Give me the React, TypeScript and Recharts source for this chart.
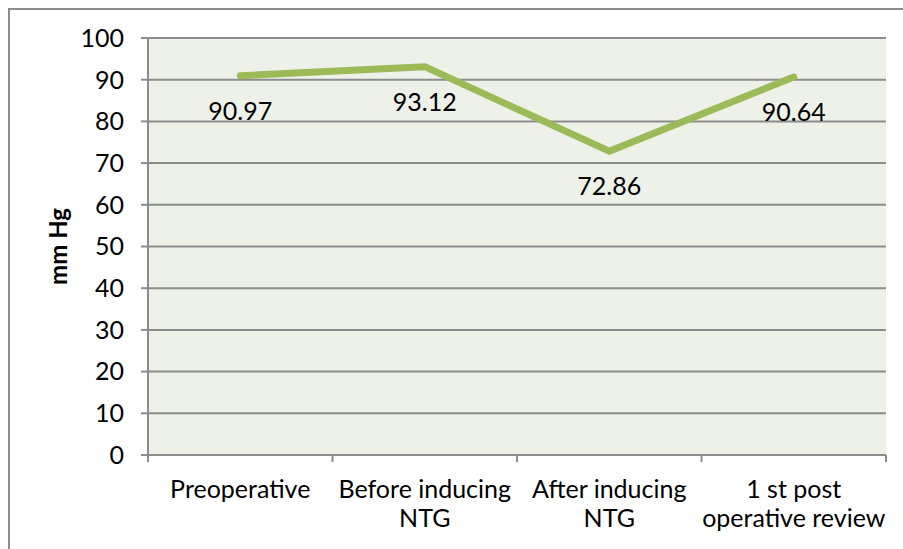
import { ComposedChart, Line, XAxis, YAxis, CartesianGrid, LabelList, Label } from 'recharts';

// mean arterial pressure at each stage
const stages = ['Preoperative', 'Before inducing\nNTG', 'After inducing\nNTG', '1 st post\noperative review'];
const pressure = [90.97, 93.12, 72.86, 90.64];
const yTicks = [0, 10, 20, 30, 40, 50, 60, 70, 80, 90, 100];

const data = stages.map((stage, i) => ({ stage, value: pressure[i] }));

const FONT = 'Lato, "Open Sans", sans-serif';
const AXIS_GREY = '#8c8c8c';
const GREEN = '#9bbb59';

// category label centred in its band, with tick marks on the band edges
function StageTick(props: any) {
  const { x, y, payload } = props;
  const half = payload.offset ?? 0;
  const lines = String(payload.value).split('\n');
  const isLast = payload.value === stages[stages.length - 1];
  return (
    <g>
      <line x1={x - half} x2={x - half} y1={y} y2={y + 7} stroke={AXIS_GREY} strokeWidth={2} />
      {isLast && <line x1={x + half} x2={x + half} y1={y} y2={y + 7} stroke={AXIS_GREY} strokeWidth={2} />}
      <text x={x} y={y + 43} textAnchor="middle" fontFamily={FONT} fontSize={25} fill="#000">
        {lines.map((l, i) => (
          <tspan key={i} x={x} dy={i === 0 ? 0 : 29}>{l}</tspan>
        ))}
      </text>
    </g>
  );
}

function ValueLabel(props: any) {
  const { x, y, value } = props;
  return (
    <text x={x} y={y + 44} textAnchor="middle" fontFamily={FONT} fontSize={25} fill="#000">
      {value.toFixed(2)}
    </text>
  );
}

function AxisTitle(props: any) {
  const { viewBox } = props;
  const cx = 67;
  const cy = viewBox.y + viewBox.height / 2;
  return (
    <text x={cx} y={cy} transform={`rotate(-90, ${cx}, ${cy})`} textAnchor="middle"
      fontFamily={FONT} fontSize={24} fontWeight="bold" fill="#000">
      mm Hg
    </text>
  );
}

export default function App() {
  return (
    <div style={{ position: 'fixed', left: 0, top: 0, width: 903, height: 549, overflow: 'hidden', background: '#fff' }}>
      <div style={{ position: 'absolute', left: 8, top: 8, width: 903, height: 549, border: '2px solid #8c8c8c', boxSizing: 'border-box' }} />
      <div style={{ position: 'absolute', left: 0, top: 0 }}>
        <ComposedChart width={903} height={549} data={data} margin={{ top: 38, right: 17, left: 0, bottom: 0 }}>
          <CartesianGrid vertical={false} fill="#eef1e8" fillOpacity={1} stroke={AXIS_GREY} strokeWidth={2} />
          <XAxis dataKey="stage" scale="band" height={94} interval={0} tickLine={false} tickSize={0} tickMargin={0}
            axisLine={{ stroke: AXIS_GREY, strokeWidth: 2 }} tick={<StageTick />} />
          <YAxis width={148} domain={[0, 100]} ticks={yTicks} interval={0} tickSize={7} tickMargin={17}
            axisLine={{ stroke: AXIS_GREY, strokeWidth: 2 }} tickLine={{ stroke: AXIS_GREY, strokeWidth: 2 }}
            tick={{ fontFamily: FONT, fontSize: 25, fill: '#000' }}>
            <Label content={<AxisTitle />} />
          </YAxis>
          <Line dataKey="value" stroke={GREEN} strokeWidth={7} strokeLinecap="round" strokeLinejoin="round"
            dot={false} activeDot={false} isAnimationActive={false}>
            <LabelList dataKey="value" content={<ValueLabel />} />
          </Line>
        </ComposedChart>
      </div>
    </div>
  );
}
